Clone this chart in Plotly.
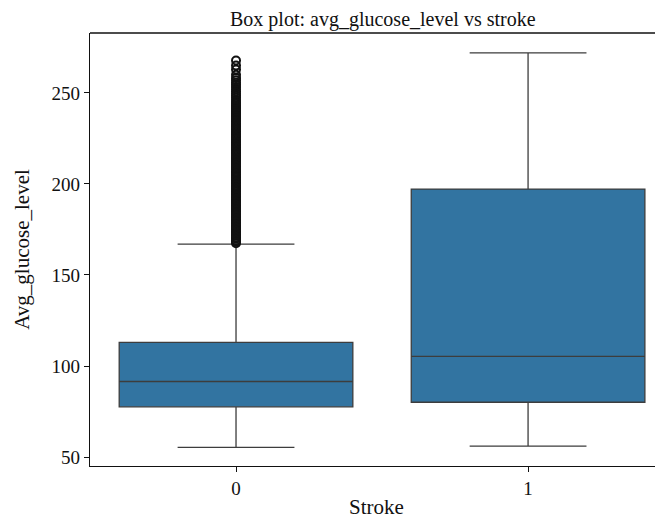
import plotly.graph_objects as go

# Data
categories = [0, 1]
q1 = [77.6, 80.1]
medians = [91.5, 105.3]
q3 = [113.0, 197.2]
lower_whisker = [55.3, 56.0]
upper_whisker = [167.0, 272.0]
outliers_stroke0 = [
    167.4, 168.2, 169.0, 169.9, 170.6, 171.5, 172.3, 173.1, 174.0, 174.8,
    175.7, 176.5, 177.2, 178.1, 179.0, 179.8, 180.6, 181.5, 182.3, 183.1,
    184.0, 184.9, 185.6, 186.4, 187.3, 188.1, 189.0, 189.9, 190.7, 191.5,
    192.4, 193.2, 194.1, 194.9, 195.8, 196.6, 197.5, 198.3, 199.2, 200.1,
    200.9, 201.8, 202.6, 203.5, 204.3, 205.2, 206.1, 206.9, 207.8, 208.7,
    209.5, 210.4, 211.3, 212.1, 213.0, 213.9, 214.7, 215.6, 216.5, 217.4,
    218.2, 219.1, 220.0, 220.9, 221.8, 222.6, 223.5, 224.4, 225.3, 226.2,
    227.0, 227.9, 228.8, 229.7, 230.6, 231.5, 232.3, 233.2, 234.1, 235.0,
    235.9, 236.8, 237.7, 238.6, 239.5, 240.4, 241.3, 242.2, 243.1, 244.0,
    245.0, 246.1, 247.3, 248.4, 249.6, 250.8, 252.0, 253.2, 254.5, 255.6,
    256.9, 258.2, 260.0, 262.8, 265.0, 267.8,
]
y_ticks = [50, 100, 150, 200, 250]
x_tick_labels = ["0", "1"]

FONT = "Liberation Serif"
BOX_FILL = "#3274a1"
LINE_COL = "#3d3d3d"

fig = go.Figure()
fig.add_trace(go.Box(
    x=categories,
    q1=q1, median=medians, q3=q3,
    lowerfence=lower_whisker, upperfence=upper_whisker,
    width=0.8, whiskerwidth=0.5,
    fillcolor=BOX_FILL,
    line=dict(color=LINE_COL, width=1.3),
    boxpoints=False,
    showlegend=False,
    hoverinfo="skip",
))
fig.add_trace(go.Scatter(
    x=[categories[0]] * len(outliers_stroke0),
    y=outliers_stroke0,
    mode="markers",
    marker=dict(symbol="circle-open", size=8, color="#111111", line=dict(width=2, color="#111111")),
    showlegend=False,
    hoverinfo="skip",
))

fig.update_layout(
    width=655, height=511,
    margin=dict(l=82, r=0, t=25, b=53),
    paper_bgcolor="white", plot_bgcolor="white",
    font=dict(family=FONT, size=19, color="#111111"),
    title=dict(text="Box plot: avg_glucose_level vs stroke", x=0.511, xref="paper",
               xanchor="center", y=0.993, yanchor="top", yref="container",
               font=dict(family=FONT, size=20, color="#111111")),
    xaxis=dict(
        range=[-0.5, 1.462], tickmode="array", tickvals=categories, ticktext=x_tick_labels,
        showline=True, linecolor="#111111", linewidth=1.3, ticks="outside", ticklen=5,
        tickcolor="#111111", tickwidth=1.2, showgrid=False, zeroline=False,
        title=dict(text="Stroke", font=dict(family=FONT, size=21), standoff=2),
        tickfont=dict(family=FONT, size=19),
    ),
    yaxis=dict(
        range=[45.1, 282.9], tickmode="array", tickvals=y_ticks,
        showline=True, linecolor="#111111", linewidth=1.3, ticks="outside", ticklen=5,
        tickcolor="#111111", tickwidth=1.2, showgrid=False, zeroline=False,
        title=dict(text="Avg_glucose_level", font=dict(family=FONT, size=21), standoff=16),
        tickfont=dict(family=FONT, size=19),
    ),
    shapes=[dict(type="line", xref="paper", yref="paper", x0=0, x1=1, y0=1, y1=1,
                 line=dict(color="#111111", width=1.3))],
)

fig.write_html("out.html")
